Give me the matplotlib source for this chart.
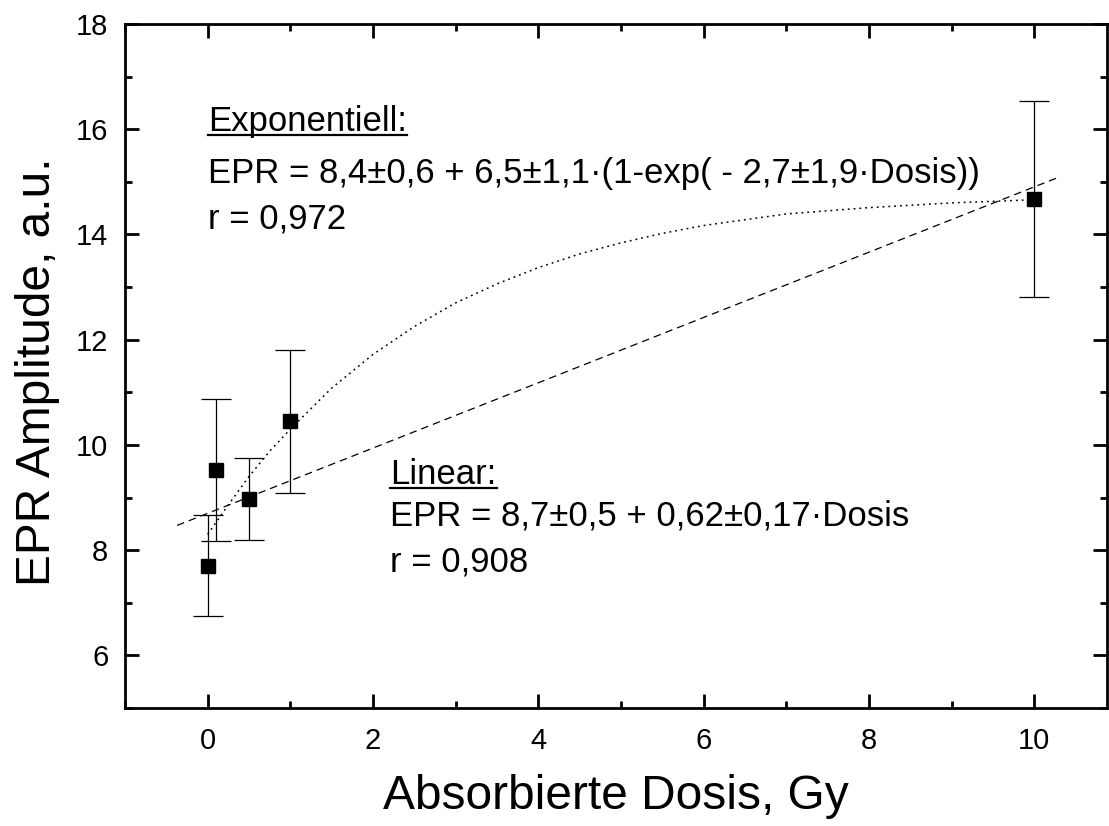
import numpy as np
import matplotlib
matplotlib.use('Agg')
import matplotlib.pyplot as plt
from matplotlib.lines import Line2D
from matplotlib.ticker import MultipleLocator

plt.rcParams['font.family'] = ['Liberation Sans', 'DejaVu Sans']

# measured points
dose = [0.0, 0.1, 0.5, 1.0, 10.0]
epr = [7.7, 9.52, 8.98, 10.45, 14.67]
epr_err = [0.96, 1.35, 0.78, 1.36, 1.86]

# linear fit line, endpoints
lin_x = [-0.37, 10.3]
lin_y = [8.47, 15.09]

# exponential fit curve
exp_x = [0.0, 0.25, 0.5, 0.75, 1.0, 1.5, 2.0, 2.5, 3.0, 3.5, 4.0, 4.5,
         5.0, 5.5, 6.0, 7.0, 8.0, 9.0, 10.0]
exp_y = [8.3, 8.86, 9.4, 9.88, 10.3, 11.08, 11.72, 12.25, 12.7, 13.06, 13.37, 13.63,
         13.84, 14.02, 14.17, 14.39, 14.51, 14.6, 14.66]

fig = plt.figure(figsize=(11.09, 8.26), dpi=100)
ax = fig.add_axes([125/1109, 1-708/826, 982/1109, 684/826])

ax.plot(lin_x, lin_y, color='black', lw=0.9, dashes=(6, 4))
ax.plot(exp_x, exp_y, color='black', lw=1.1, dashes=(1.2, 2.6))
ax.errorbar(dose, epr, yerr=epr_err, fmt='s', color='black', ms=10.5,
            elinewidth=0.9, capsize=10.5, capthick=0.9, ecolor='black')

ax.set_xlim(-1, 10.88)
ax.set_ylim(5, 18)
ax.xaxis.set_major_locator(MultipleLocator(2))
ax.xaxis.set_minor_locator(MultipleLocator(1))
ax.yaxis.set_major_locator(MultipleLocator(2))
ax.yaxis.set_minor_locator(MultipleLocator(1))
ax.set_yticks([6, 8, 10, 12, 14, 16, 18])
ax.tick_params(which='both', direction='in', top=True, right=True, width=2)
ax.tick_params(which='major', length=10, labelsize=21)
ax.tick_params(axis='x', which='major', pad=14)
ax.tick_params(axis='y', which='major', pad=12)
ax.tick_params(which='minor', length=5)
ax.tick_params(labeltop=False, labelright=False)
for s in ax.spines.values():
    s.set_linewidth(2)

ax.set_xlabel('Absorbierte Dosis, Gy', fontsize=34.5)
ax.xaxis.set_label_coords(0.5, -0.0965)
ax.set_ylabel('EPR Amplitude, a.u.', fontsize=34.5)
ax.yaxis.set_label_coords(-0.066, 0.492)

fs = 25
t1 = ax.text(0.0, 15.96, 'Exponentiell:', fontsize=fs, va='baseline')
ax.text(0.0, 14.97, 'EPR = 8,4±0,6 + 6,5±1,1·(1-exp( - 2,7±1,9·Dosis))', fontsize=fs, va='baseline')
ax.text(0.0, 14.12, 'r = 0,972', fontsize=fs, va='baseline')
t2 = ax.text(2.21, 9.26, 'Linear:', fontsize=fs, va='baseline')
ax.text(2.21, 8.46, 'EPR = 8,7±0,5 + 0,62±0,17·Dosis', fontsize=fs, va='baseline')
ax.text(2.21, 7.6, 'r = 0,908', fontsize=fs, va='baseline')

# underline the headings
fig.canvas.draw()
r = fig.canvas.get_renderer()
for t in (t1, t2):
    bb = t.get_window_extent(r)
    xb, yb = ax.transData.transform(t.get_position())
    fig.add_artist(Line2D([bb.x0, bb.x1], [yb - 4, yb - 4], color='black', lw=1.6,
                          transform=None))

fig.savefig('out.png', dpi=100)
